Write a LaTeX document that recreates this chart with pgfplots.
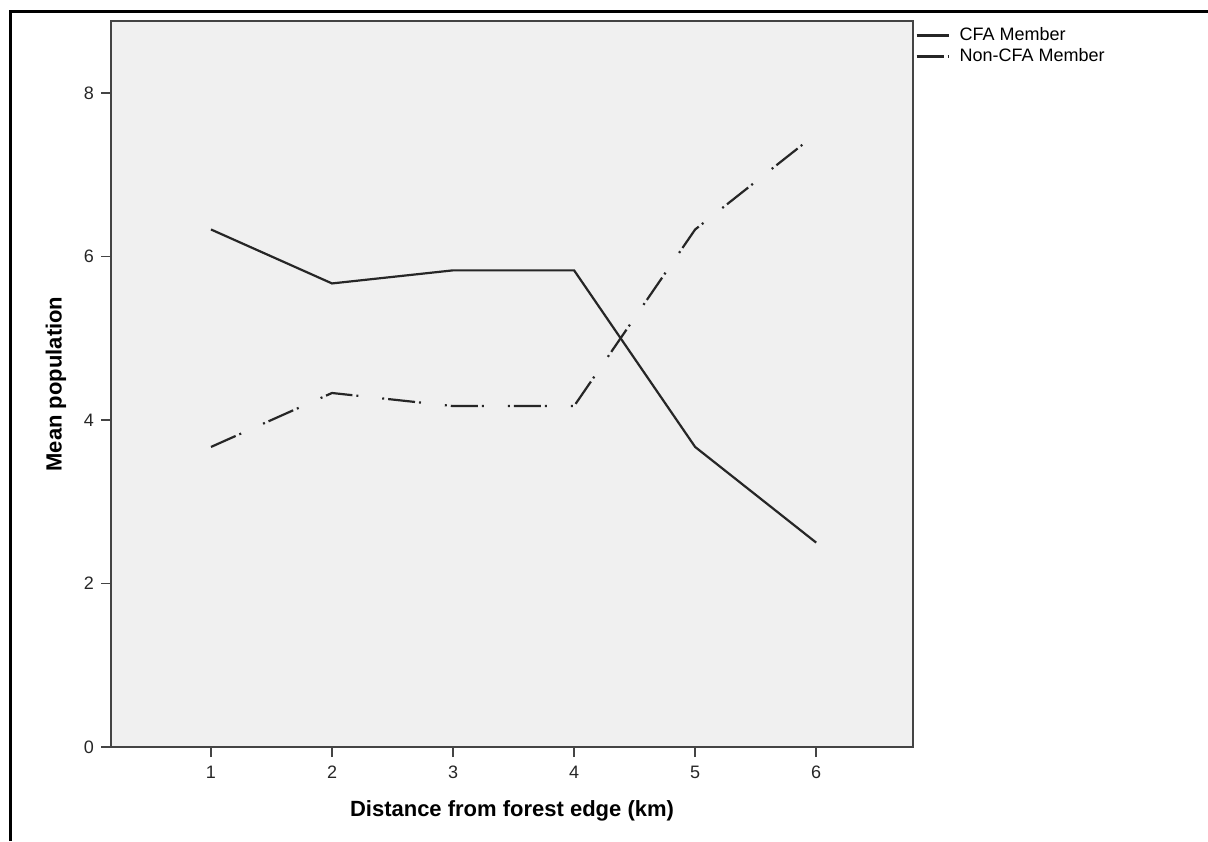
\documentclass[border=0pt]{standalone}
\usepackage{fontspec}
\setmainfont{Liberation Sans}
\usepackage{pgfplots}
\pgfplotsset{compat=1.18}
\definecolor{plotbg}{HTML}{F0F0F0}
\definecolor{axcol}{HTML}{444444}
\begin{document}
\begin{tikzpicture}
\useasboundingbox (0,0) rectangle (604pt,420.5pt);
\draw[line width=1.5pt,black] (5pt,0) -- (5pt,414.5pt) -- (604pt,414.5pt);
\begin{axis}[
  at={(55.5pt,47pt)}, anchor=south west,
  scale only axis, width=401pt, height=363pt,
  xmin=0.174, xmax=6.80, ymin=0, ymax=8.88,
  xtick={1,2,3,4,5,6}, ytick={0,2,4,6,8},
  axis background/.style={fill=plotbg},
  axis line style={axcol, line width=0.9pt},
  tick style={axcol, line width=0.8pt},
  tick align=outside, major tick length=5pt,
  xtick pos=bottom, ytick pos=left,
  /pgf/number format/assume math mode=true,
  tick label style={font=\fontsize{9}{10}\selectfont, text=black!85},
  xticklabel style={yshift=-1pt},
  xlabel={\textbf{Distance from forest edge (km)}},
  ylabel={\textbf{Mean population}},
  label style={font=\fontsize{11}{13}\selectfont},
  xlabel style={yshift=-4pt},
  ylabel style={yshift=2pt},
  legend style={at={(1,1)}, anchor=north west, draw=none, fill=none,
    font=\fontsize{9}{10}\selectfont, xshift=0pt, yshift=0pt,
    row sep=-1.5pt, inner sep=1pt},
  legend cell align=left,
  legend image code/.code={\draw[#1] (0pt,0pt) -- (16pt,0pt);},
]
\addplot[black!85, line width=1.1pt] coordinates {(1,6.33) (2,5.67) (3,5.83) (4,5.83) (5,3.67) (6,2.5)};
\addlegendentry{\hspace*{3pt}CFA Member}
\addplot[black!85, line width=1.1pt, dash pattern=on 13.5pt off 2pt on 1pt off 12pt on 1pt off 2pt] coordinates {(1,3.67) (2,4.33) (3,4.17) (4,4.17) (5,6.33) (6,7.5)};
\addlegendentry{\hspace*{3pt}Non-CFA Member}
\end{axis}
\end{tikzpicture}
\end{document}
